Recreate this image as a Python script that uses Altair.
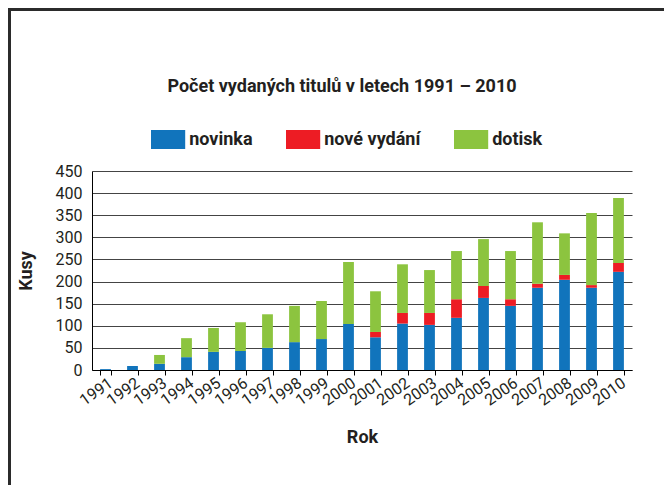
import altair as alt
import pandas as pd

roky = [str(r) for r in range(1991, 2011)]
novinka = [2, 9, 14, 29, 41, 43, 50, 63, 70, 104, 74, 105, 102, 118, 163, 145, 186, 204, 186, 222]
nove_vydani = [0, 0, 0, 0, 0, 0, 0, 0, 0, 0, 12, 24, 27, 42, 27, 15, 9, 11, 6, 20]
dotisk = [0, 0, 20, 43, 54, 65, 76, 82, 86, 140, 92, 110, 97, 109, 106, 109, 139, 94, 163, 147]

kategorie = ["novinka", "nové vydání", "dotisk"]
barvy = ["#1174bc", "#ed1c24", "#8cc43f"]

rows = []
for i, r in enumerate(roky):
    for k, (nazev, serie) in enumerate(zip(kategorie, [novinka, nove_vydani, dotisk])):
        rows.append({"Rok": r, "typ": nazev, "kusy": serie[i], "poradi": k})
df = pd.DataFrame(rows)

FONT = "Roboto"
TXT = "#231f20"

bars = alt.Chart(df).mark_bar().encode(
    x=alt.X(
        "Rok:N",
        title="Rok",
        sort=roky,
        scale=alt.Scale(paddingInner=0.6, paddingOuter=0.3),
        axis=alt.Axis(
            labelAngle=-35, labelAlign="right", labelBaseline="middle",
            labelPadding=6, labelOffset=5, tickBand="extent", tickSize=5, tickColor="#000",
            domainColor="#000", labelFontSize=16, labelFont=FONT, labelColor=TXT,
            titleFontSize=18, titleFont=FONT, titleFontWeight="bold", titleColor=TXT,
            titlePadding=20, grid=False,
        ),
    ),
    y=alt.Y(
        "kusy:Q",
        stack="zero",
        title="Kusy",
        scale=alt.Scale(domain=[0, 450]),
        axis=alt.Axis(
            values=list(range(0, 451, 50)), ticks=False, labelPadding=10,
            domainColor="#000", gridColor="#444", gridWidth=1,
            labelFontSize=16, labelFont=FONT, labelColor=TXT,
            titleFontSize=18, titleFont=FONT, titleFontWeight="bold", titleColor=TXT,
            titlePadding=20,
        ),
    ),
    color=alt.Color(
        "typ:N",
        scale=alt.Scale(domain=kategorie, range=barvy),
        legend=alt.Legend(
            title=None, orient="none", direction="horizontal",
            legendX=66.6, legendY=-41, padding=0,
            symbolType="M-1.8,-1H1.8V1H-1.8Z", symbolSize=361,
            symbolStrokeWidth=0, symbolOpacity=1,
            labelOffset=11.6, columnPadding=33,
            labelFontSize=18, labelFont=FONT, labelFontWeight="bold", labelColor=TXT,
        ),
    ),
    order=alt.Order("poradi:Q"),
)

frame = alt.Chart(pd.DataFrame({"a": [0]})).mark_rect(
    filled=False, stroke="#2b2b2b", strokeWidth=3
).encode(
    x=alt.value(-82.5), x2=alt.value(800), y=alt.value(-161.5), y2=alt.value(700)
)

chart = alt.layer(frame, bars).properties(
    width=540,
    height=199,
    autosize=alt.AutoSizeParams(type="none"),
    padding={"left": 84, "top": 163, "right": 32, "bottom": 115},
    title=alt.TitleParams(
        "Počet vydaných titulů v letech 1991 – 2010",
        fontSize=18, font=FONT, fontWeight="bold", color=TXT,
        anchor="middle", frame="group", dx=-20, dy=92,
    ),
).configure_view(strokeWidth=0)

chart.save("out.html", embed_options={"renderer": "svg", "actions": False})
